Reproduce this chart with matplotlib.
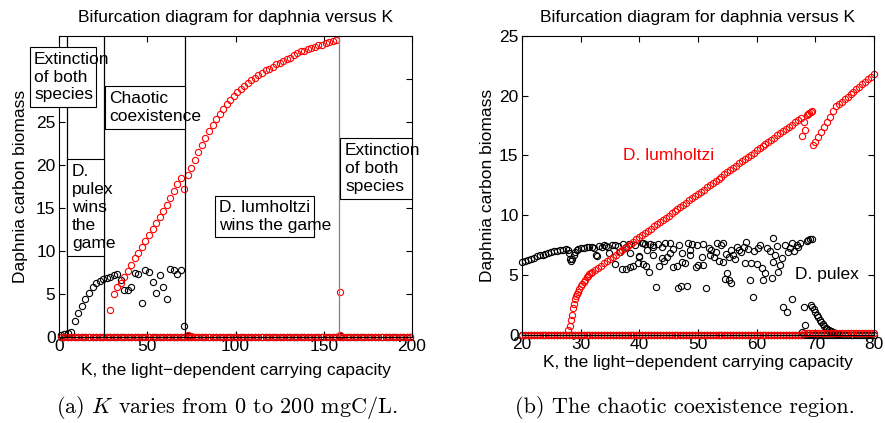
import numpy as np
import matplotlib
matplotlib.use('Agg')
import matplotlib.pyplot as plt
from matplotlib.patches import Rectangle

plt.rcParams['font.family'] = 'Liberation Sans'
plt.rcParams['mathtext.fontset'] = 'cm'

W, H = 885, 423
FS = 12.5

# ---------------- panel (a): K from 0 to 200 ----------------
k_a = list(range(1, 200, 2))

# D. pulex, upper branch (K = 1, 3, ..., 73)
k_pulex_a = list(range(1, 75, 2))
pulex_a = [0.3, 0.42, 0.55, 0.6, 1.9, 2.8, 3.6, 4.4, 5.2, 5.8, 6.3, 6.55, 6.8,
           6.9, 7.05, 7.2, 7.36, 6.67, 5.5, 5.5, 5.8, 7.5, 7.3, 4.0, 7.8, 7.6,
           6.4, 5.1, 7.2, 5.9, 4.5, 7.9, 7.8, 7.3, 7.8, 1.3, 0.15]
k_pulex_a_extra = [159]
pulex_a_extra = [0.2]

# D. lumholtzi, upper branch
k_lum_a1 = list(range(29, 73, 2))
lum_a1 = [3.2, 5.0, 5.8, 6.35, 7.0, 7.75, 8.4, 9.2, 9.85, 10.5, 11.2, 11.9,
          12.6, 13.3, 14.0, 14.65, 15.35, 16.2, 17.0, 17.8, 18.5, 17.2]
k_lum_a2 = list(range(73, 159, 2))
lum_a2 = [18.8, 19.7, 20.6, 21.5, 22.3, 23.2, 24.0, 24.65, 25.35, 25.95, 26.55,
          27.1, 27.6, 28.0, 28.45, 28.8, 29.2, 29.5, 29.85, 30.15, 30.45, 30.7,
          31.0, 31.2, 31.45, 31.7, 31.9, 32.1, 32.3, 32.5, 32.85, 33.0, 33.2,
          33.3, 33.5, 33.6, 33.75, 33.9, 34.0, 34.15, 34.25, 34.4, 34.55]
k_lum_a_extra = [73, 75, 159, 159]
lum_a_extra = [0.25, 0.1, 5.3, 0.25]

# region borders
borders_a = [4.6, 25.5, 71.3, 158.7]
border_colors = ['black', 'black', 'black', '#808080']

# ---------------- panel (b): chaotic region ----------------
k_b = np.arange(20, 80.01, 0.5)
lum_b_low = [0.0] * 96 + [0.18] * 25

k_pulex_b1 = [20, 20.5, 21, 21.5, 22, 22.5, 23, 23.5, 24, 24.5, 25, 25.5, 26,
              26.5, 27, 27.5, 27.8, 28.0, 28.2, 28.4, 28.6, 28.8, 29.0, 29.3,
              29.6, 30.0, 30.5, 31.0, 31.5, 32.0]
pulex_b1 = [6.05, 6.16, 6.27, 6.37, 6.46, 6.55, 6.63, 6.71, 6.78, 6.85, 6.91,
            6.97, 7.02, 7.07, 7.11, 7.14, 7.05, 6.8, 6.35, 6.2, 6.3, 6.65, 6.95,
            7.1, 7.18, 7.24, 7.28, 7.32, 7.35, 7.38]

# scattered (chaotic) D. pulex values
k_pulex_chaos = [32.2, 32.6, 32.8, 33.2, 33.6, 34.0, 34.4, 34.7, 34.9, 35.3,
                 35.85, 35.9, 36.3, 36.7, 37.0, 37.2, 37.7, 37.8, 38.2, 38.4,
                 38.4, 38.9, 39.3, 39.8, 39.95, 40.0, 40.4, 40.7, 40.7, 41.0,
                 41.1, 41.25, 41.6, 41.8, 42.3, 42.4, 42.4, 42.8, 43.2, 43.35,
                 43.8, 43.8, 44.2, 44.4, 44.8, 45.2, 45.2, 45.7, 45.8, 46.5,
                 46.6, 46.8, 47.05, 47.2, 47.2, 47.8, 48.1, 48.35, 48.6, 48.6,
                 48.9, 49.7, 49.8, 50.05, 50.6, 50.9, 50.9, 51.4, 51.8, 52.0,
                 52.3, 52.7, 53.1, 53.2, 53.5, 54.0, 54.3, 54.3, 54.6, 54.8,
                 55.0, 55.2, 55.3, 55.7, 55.7, 56.0, 56.3, 56.6, 57.0, 57.4,
                 57.8, 58.0, 58.2, 58.6, 58.9, 59.1, 59.3, 59.6, 60.0, 60.3,
                 60.6, 60.85, 61.0, 61.4, 61.7, 62.2, 62.55, 62.8, 62.8, 63.1,
                 63.4, 63.7, 64.0, 64.3, 64.5, 64.8, 65.1, 65.4, 65.7, 66.0,
                 66.1, 66.4, 66.8, 67.1, 67.4, 67.7, 68.0, 68.2, 68.5, 68.8,
                 69.1, 69.4]
pulex_chaos = [7.23, 6.67, 6.59, 7.45, 7.35, 7.48, 7.4, 7.37, 6.81, 7.52,
               5.89, 7.51, 7.45, 6.95, 5.47, 7.55, 5.52, 7.37, 7.6, 5.64,
               6.81, 5.75, 7.5, 5.97, 6.48, 6.58, 7.65, 5.89, 7.64, 7.6,
               5.78, 7.09, 5.22, 7.59, 7.31, 6.67, 7.5, 3.96, 7.59, 5.75,
               6.39, 7.37, 6.19, 7.7, 6.53, 6.81, 7.64, 5.64, 7.14, 5.75,
               3.88, 7.5, 4.07, 6.11, 6.81, 5.97, 4.07, 7.7, 6.67, 7.09,
               7.59, 5.69, 7.5, 5.83, 6.53, 5.83, 7.59, 3.88, 7.23, 6.67,
               7.09, 6.53, 6.95, 7.7, 6.19, 7.5, 6.11, 7.64, 4.63, 6.75,
               5.13, 4.58, 6.53, 4.35, 7.09, 6.67, 6.31, 7.37, 7.1, 6.95,
               7.3, 5.97, 7.78, 7.2, 4.58, 5.97, 3.18, 7.0, 5.91, 7.23,
               7.5, 5.55, 4.58, 5.13, 7.23, 7.0, 4.72, 6.11, 8.06, 6.67,
               7.4, 5.27, 5.83, 6.39, 2.34, 7.5, 1.93, 6.95, 7.23, 7.64,
               2.96, 7.0, 7.5, 7.3, 7.64, 0.25, 2.34, 0.81, 7.87, 7.9,
               7.98, 8.0]

k_pulex_b2 = [69.25, 69.5, 69.75, 70.0, 70.25, 70.5, 70.75, 71.0, 71.25, 71.5,
              71.75, 72.0, 72.25, 72.5, 72.75, 73.0, 73.25, 73.5, 73.75, 74.0]
pulex_b2 = [2.45, 2.35, 2.12, 1.9, 1.67, 1.45, 1.25, 1.05, 0.88, 0.72, 0.6,
            0.5, 0.42, 0.35, 0.28, 0.22, 0.16, 0.12, 0.09, 0.06]

# D. lumholtzi upper branch
k_lum_b1 = [27.9, 28.1, 28.3, 28.5, 28.75, 28.9, 29.0, 29.15, 29.3, 29.5, 29.7,
            30.0, 30.25, 30.5, 30.75, 31.0, 31.25, 31.5, 31.75]
lum_b1 = [0.4, 0.75, 1.2, 1.65, 2.2, 2.6, 2.95, 3.2, 3.4, 3.6, 3.8, 4.07, 4.25,
          4.4, 4.6, 4.8, 4.93, 5.05, 5.15]
k_lum_b2 = np.arange(32, 67.51, 0.5)
lum_b2 = [5.25, 5.43, 5.61, 5.79, 5.97, 6.16, 6.34, 6.52, 6.70, 6.88, 7.06,
          7.24, 7.43, 7.61, 7.79, 7.97, 8.15, 8.33, 8.51, 8.70, 8.88, 9.06,
          9.24, 9.42, 9.60, 9.79, 9.97, 10.15, 10.33, 10.51, 10.69, 10.88,
          11.06, 11.24, 11.42, 11.60, 11.78, 11.97, 12.15, 12.33, 12.51, 12.69,
          12.87, 13.05, 13.24, 13.42, 13.60, 13.78, 13.96, 14.14, 14.33, 14.51,
          14.69, 14.87, 15.05, 15.23, 15.42, 15.60, 15.78, 15.96, 16.14, 16.32,
          16.50, 16.69, 16.87, 17.05, 17.23, 17.41, 17.59, 17.78, 17.96, 18.14]
k_lum_b3 = [67.8, 68.0, 68.3, 68.5, 68.8, 69.0, 69.3, 69.5]
lum_b3 = [16.6, 17.8, 17.1, 18.4, 18.5, 18.55, 18.6, 18.7]
k_lum_b4 = [69.6, 70.0, 70.5, 71.0, 71.5, 72.0, 72.5, 73.0, 73.5, 74.0, 74.5,
            75.0, 75.5, 76.0, 76.5, 77.0, 77.5, 78.0, 78.5, 79.0, 79.5, 80.0]
lum_b4 = [15.85, 16.15, 16.57, 16.95, 17.35, 17.8, 18.25, 18.7, 19.1, 19.27,
          19.48, 19.69, 19.9, 20.11, 20.32, 20.53, 20.74, 20.95, 21.16, 21.37,
          21.58, 21.8]

# ---------------- drawing ----------------
fig = plt.figure(figsize=(W / 100, H / 100), dpi=100)
ax1 = fig.add_axes([59 / W, 1 - 337.3 / H, 353 / W, 301.3 / H])
ax2 = fig.add_axes([522 / W, 1 - 334.7 / H, 352 / W, 298.7 / H])

mk = dict(marker='o', linestyle='none', markersize=4.5, markeredgewidth=0.8,
          markerfacecolor='none', clip_on=False)

# panel (a)
ax1.plot(k_pulex_a, pulex_a, markeredgecolor='black', **mk)
ax1.plot(k_pulex_a_extra, pulex_a_extra, markeredgecolor='black', **mk)
ax1.plot(k_a, [0.0] * len(k_a), markeredgecolor='black', **mk)
ax1.plot(k_a, [0.0] * len(k_a), markeredgecolor='red', **mk)
ax1.plot(k_lum_a1, lum_a1, markeredgecolor='red', **mk)
ax1.plot(k_lum_a2, lum_a2, markeredgecolor='red', **mk)
ax1.plot(k_lum_a_extra, lum_a_extra, markeredgecolor='red', **mk)
for xb, cb in zip(borders_a, border_colors):
    ax1.axvline(xb, color=cb, lw=0.9)

ax1.set_xlim(0, 200)
ax1.set_ylim(0, 35)
ax1.set_xticks([0, 50, 100, 150, 200])
ax1.set_yticks([0, 5, 10, 15, 20, 25, 30])
ax1.set_yticklabels(['0', '5', '10', '15', '20', '25', ''])  # 30 is hidden by a box
ax1.set_title('Bifurcation diagram for daphnia versus K', fontsize=FS, pad=10)
ax1.set_xlabel('K, the light\u2212dependent carrying capacity', fontsize=FS, labelpad=6)
ax1.set_ylabel('Daphnia carbon biomass', fontsize=FS, labelpad=5.5)

# panel (b)
ax2.plot(k_pulex_b1, pulex_b1, markeredgecolor='black', **mk)
ax2.plot(k_pulex_chaos, pulex_chaos, markeredgecolor='black', **mk)
ax2.plot(k_pulex_b2, pulex_b2, markeredgecolor='black', **mk)
ax2.plot(k_b, [0.0] * len(k_b), markeredgecolor='black', **mk)
ax2.plot(k_b, lum_b_low, markeredgecolor='red', **mk)
ax2.plot(k_lum_b1, lum_b1, markeredgecolor='red', **mk)
ax2.plot(k_lum_b2, lum_b2, markeredgecolor='red', **mk)
ax2.plot(k_lum_b3, lum_b3, markeredgecolor='red', **mk)
ax2.plot(k_lum_b4, lum_b4, markeredgecolor='red', **mk)
ax2.text(44.9, 15.0, 'D. lumholtzi', color='red', fontsize=FS, ha='center', va='center')
ax2.text(71.9, 5.0, 'D. pulex', color='black', fontsize=FS, ha='center', va='center')

ax2.set_xlim(20, 80)
ax2.set_ylim(0, 25)
ax2.set_xticks([20, 30, 40, 50, 60, 70, 80])
ax2.set_yticks([0, 5, 10, 15, 20, 25])
ax2.set_title('Bifurcation diagram for daphnia versus K', fontsize=FS, pad=10)
ax2.set_xlabel('K, the light\u2212dependent carrying capacity', fontsize=FS, labelpad=2)
ax2.set_ylabel('Daphnia carbon biomass', fontsize=FS, labelpad=3)

for ax in (ax1, ax2):
    ax.tick_params(direction='in', top=True, right=True, length=4, width=0.8,
                   labelsize=FS)
    ax.tick_params(axis='x', pad=1.5)
    ax.tick_params(axis='y', pad=2.5)
    for s in ax.spines.values():
        s.set_linewidth(0.8)

# text boxes of panel (a), given in pixel coordinates of the picture
boxes = [
    (30, 47, 96, 107, 'Extinction\nof both\nspecies', 34),
    (67, 159, 104, 256, 'D.\npulex\nwins\nthe\ngame', 72),
    (105, 86, 185, 129, 'Chaotic\ncoexistence', 109),
    (215, 196, 314, 237, 'D. lumholtzi\nwins the game', 219),
    (340, 137.7, 411.7, 199.3, 'Extinction\nof both\nspecies', 345),
]
for x0, y0, x1, y1, txt, tx in boxes:
    fig.add_artist(Rectangle((x0 / W, 1 - y1 / H), (x1 - x0) / W, (y1 - y0) / H,
                             transform=fig.transFigure, facecolor='white',
                             edgecolor='black', lw=0.8, zorder=5))
    fig.text(tx / W, 1 - (y0 + y1) / 2 / H, txt, fontsize=FS, ha='left',
             va='center', linespacing=1.25, zorder=6)

# captions
fig.text(226.5 / W, 1 - 407 / H, '(a) $K$ varies from 0 to 200 mgC/L.',
         family='cmr10', fontsize=16, ha='center', va='center')
fig.text(685 / W, 1 - 407 / H, '(b) The chaotic coexistence region.',
         family='cmr10', fontsize=16, ha='center', va='center')

fig.savefig('out.png', dpi=100)
